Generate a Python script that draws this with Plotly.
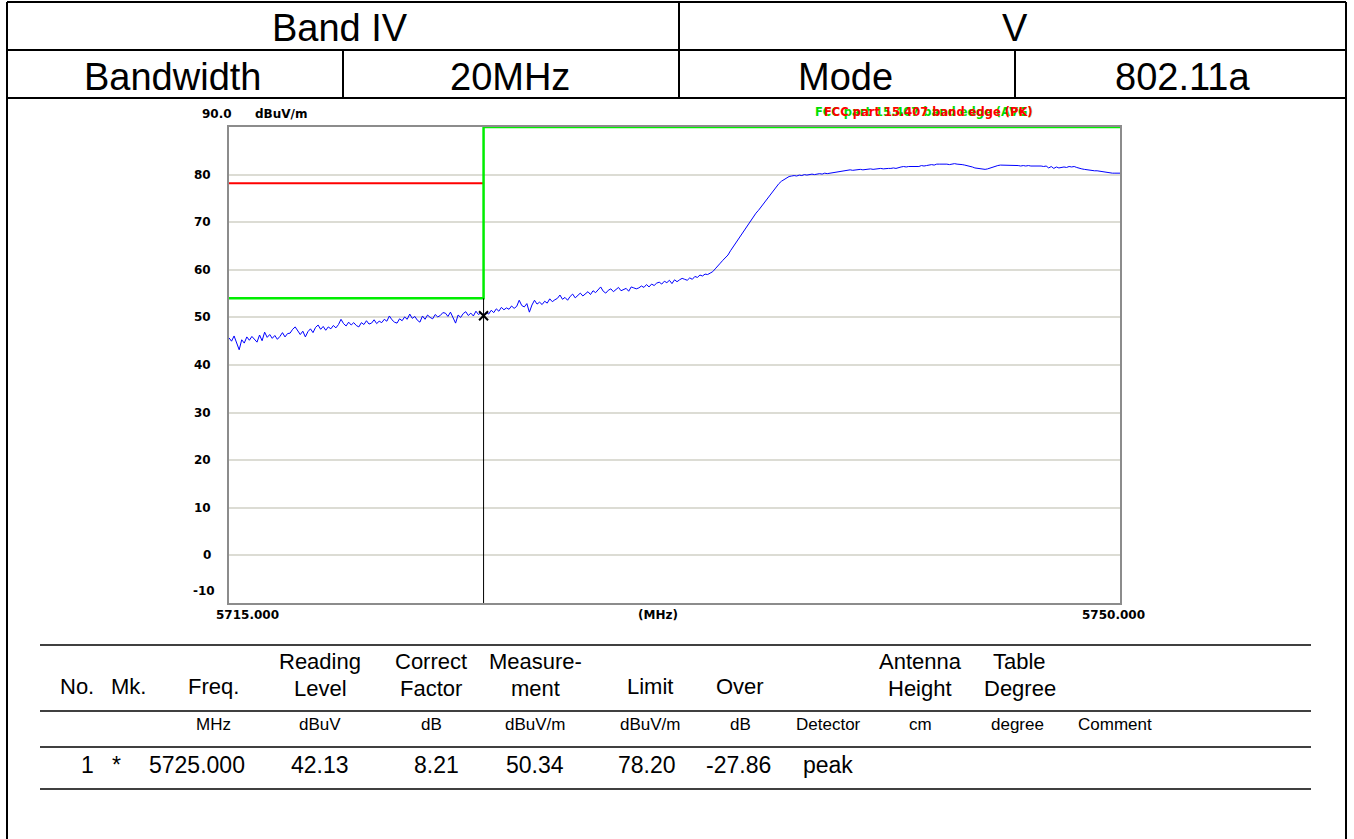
import plotly.graph_objects as go

W, H = 1354, 839

# ---------------- data ----------------
f_start = 5715.0
f_step = 0.1
level = [
    45.7, 45.0, 46.1, 44.5, 43.2, 45.3, 44.6, 45.9, 45.2, 46.0,
    45.5, 44.8, 46.3, 45.1, 46.9, 45.8, 46.4, 45.6, 46.2, 45.4,
    46.0, 46.8, 45.9, 46.6, 46.7, 47.5, 48.0, 47.2, 46.4, 47.1,
    45.9, 47.0, 47.6, 46.8, 47.9, 48.4, 47.5, 48.1, 47.3, 48.0,
    47.6, 48.3, 47.8, 48.5, 49.6, 48.7, 48.2, 49.0, 48.4, 48.9,
    48.3, 48.0, 48.9, 48.5, 49.3, 48.6, 48.8, 49.5, 48.7, 49.2,
    48.9, 49.6, 49.2, 50.3, 49.5, 49.0, 48.8, 49.7, 49.3, 50.1,
    49.6, 50.7, 49.8, 50.2, 49.4, 49.0, 50.3, 49.6, 50.5, 50.0,
    49.7, 50.6, 50.1, 50.4, 51.0, 50.9, 50.2, 51.1, 49.9, 48.8,
    50.5, 50.0, 50.8, 51.2, 50.4, 50.9, 50.3, 51.3, 50.6, 51.0,
    50.3, 51.1, 50.7, 51.5, 51.0, 51.8, 51.3, 52.1, 51.6, 52.0,
    51.7, 52.4, 51.9, 52.3, 53.6, 52.5, 52.2, 52.9, 51.1, 52.6,
    53.6, 52.8, 53.2, 52.7, 53.4, 53.0, 53.9, 53.3, 53.7, 54.0,
    54.7, 53.8, 54.2, 53.6, 54.4, 54.9, 54.1, 54.6, 55.1, 54.5,
    54.9, 55.4, 54.8, 55.6, 55.2, 55.9, 56.4, 55.5, 55.1, 55.7,
    56.0, 55.4, 55.8, 56.3, 55.6, 55.9, 56.1, 55.5, 56.4, 56.2,
    56.0, 56.2, 56.6, 56.3, 56.9, 56.4, 57.0, 56.7, 57.2, 57.4,
    57.0, 57.6, 57.3, 57.8, 57.1, 57.9, 57.5, 57.9, 58.2, 58.0,
    57.8, 58.3, 58.0, 58.6, 58.4, 58.9, 58.7, 59.1, 59.0, 59.3,
    59.6, 60.2, 60.9, 61.4, 62.0, 62.6, 63.1, 64.0, 64.8, 65.5,
    66.3, 67.2, 68.0, 68.8, 69.4, 70.2, 71.0, 71.9, 72.5, 73.2,
    74.0, 74.6, 75.3, 76.2, 76.9, 77.5, 78.1, 78.6, 79.0, 79.3,
    79.6, 79.7, 79.8, 79.7, 79.9, 79.8, 80.0, 79.9, 80.0, 80.1,
    80.0, 80.1, 80.2, 80.1, 80.3, 80.2, 80.3, 80.3, 80.4, 80.5,
    80.6, 80.7, 80.8, 80.9, 81.0, 80.9, 81.0, 81.0, 81.1, 81.0,
    81.1, 81.1, 81.2, 81.1, 81.2, 81.2, 81.3, 81.2, 81.3, 81.3,
    81.3, 81.4, 81.3, 81.5, 81.6, 81.7, 81.6, 81.7, 81.7, 81.8,
    81.8, 81.7, 81.9, 81.8, 81.9, 82.0, 82.1, 82.0, 82.2, 82.2,
    82.2, 82.3, 82.2, 82.1, 82.2, 82.3, 82.2, 82.2, 82.1, 82.0,
    81.9, 81.8, 81.6, 81.4, 81.3, 81.2, 81.1, 81.1, 81.2, 81.4,
    81.6, 81.8, 81.9, 82.0, 82.0, 81.9, 82.0, 81.9, 81.9, 81.9,
    81.9, 81.8, 81.9, 81.8, 81.9, 81.8, 81.8, 81.9, 81.8, 81.8,
    81.7, 81.8, 81.4, 81.7, 81.3, 81.6, 81.4, 81.5, 81.6, 81.5,
    81.7, 81.6, 81.7, 81.5, 81.3, 81.2, 81.1, 81.0, 81.0, 80.9,
    80.8, 80.8, 80.7, 80.6, 80.5, 80.4, 80.4, 80.3, 80.3, 80.3,
    80.3,
]
freq = [round(f_start + i * f_step, 1) for i in range(len(level))]

pk_limit_x = [5715, 5725]
pk_limit_y = [78.2, 78.2]
av_limit_x = [5715, 5725, 5725, 5750]
av_limit_y = [54, 54, 90, 90]

marker_freq = 5725.0
marker_level = 50.34
marker_line_y = [-10, 54]

y_ticks = [0, 10, 20, 30, 40, 50, 60, 70, 80]
x_range = [5715, 5750]
y_range = [-10, 90]

header_row1 = ["Band IV", "V"]
header_row2 = ["Bandwidth", "20MHz", "Mode", "802.11a"]

col_head1 = ["", "", "", "Reading", "Correct", "Measure-", "", "", "", "Antenna", "Table", ""]
col_head2 = ["No.", "Mk.", "Freq.", "Level", "Factor", "ment", "Limit", "Over", "", "Height", "Degree", ""]
col_units = ["", "", "MHz", "dBuV", "dB", "dBuV/m", "dBuV/m", "dB", "Detector", "cm", "degree", "Comment"]
row1_vals = ["1", "*", "5725.000", "42.13", "8.21", "50.34", "78.20", "-27.86", "peak", "", "", ""]

# ---------------- helpers ----------------
def px(x):
    return x / W

def py(y):
    return 1 - y / H

FONT = "Arial, Liberation Sans, sans-serif"
TICKFONT = dict(family="DejaVu Sans, sans-serif", size=12, color="#000")

fig = go.Figure()

fig.add_trace(go.Scatter(x=freq, y=level, mode="lines",
                         line=dict(color="#0000ff", width=1), hoverinfo="skip"))
fig.add_trace(go.Scatter(x=pk_limit_x, y=pk_limit_y, mode="lines",
                         line=dict(color="#ff0000", width=2), hoverinfo="skip"))
fig.add_trace(go.Scatter(x=av_limit_x, y=av_limit_y, mode="lines",
                         line=dict(color="#00ee00", width=2.5), hoverinfo="skip", cliponaxis=False))
fig.add_trace(go.Scatter(x=[marker_freq, marker_freq], y=marker_line_y, mode="lines",
                         line=dict(color="#000000", width=1), hoverinfo="skip"))
fig.add_trace(go.Scatter(x=[marker_freq], y=[marker_level], mode="markers",
                         marker=dict(symbol="x-thin", size=9, color="#000000",
                                     line=dict(color="#000000", width=2)),
                         hoverinfo="skip"))

ann = []
shapes = []

# y tick labels
for v in y_ticks:
    ann.append(dict(xref="paper", yref="y", x=px(213), y=v, text=f"<b>{v}</b>",
                    showarrow=False, xanchor="right", yanchor="middle", font=TICKFONT))
ann.append(dict(xref="paper", yref="y", x=px(217), y=-10, yshift=12, text="<b>-10</b>",
                showarrow=False, xanchor="right", yanchor="middle", font=TICKFONT))
ann.append(dict(xref="paper", yref="y", x=px(234), y=90, yshift=13, text="<b>90.0</b>",
                showarrow=False, xanchor="right", yanchor="middle", font=TICKFONT))
ann.append(dict(xref="paper", yref="y", x=px(253), y=90, yshift=13, text="<b>dBuV/m</b>",
                showarrow=False, xanchor="left", yanchor="middle", font=TICKFONT))
# x labels
for txt, xc in [("5715.000", 248), ("(MHz)", 658), ("5750.000", 1113)]:
    ann.append(dict(xref="paper", yref="paper", x=px(xc), y=py(615), text=f"<b>{txt}</b>",
                    showarrow=False, xanchor="center", yanchor="middle", font=TICKFONT))
# limit titles (overlapping in the original)
ann.append(dict(xref="paper", yref="paper", x=px(813), y=py(112),
                text="<b>FCC part 15.407 band edge (AVG)</b>", showarrow=False,
                xanchor="left", yanchor="middle",
                font=dict(family="DejaVu Sans, sans-serif", size=11.5, color="#00dd00")))
ann.append(dict(xref="paper", yref="paper", x=px(822), y=py(112),
                text="<b>FCC part 15.407 band edge (PK)</b>", showarrow=False,
                xanchor="left", yanchor="middle",
                font=dict(family="DejaVu Sans, sans-serif", size=11.5, color="#ff0000")))

# header table
def hline(x0, x1, y, w=2, color="#000"):
    shapes.append(dict(type="line", xref="paper", yref="paper", x0=px(x0), x1=px(x1),
                       y0=py(y), y1=py(y), line=dict(color=color, width=w)))

def vline(x, y0, y1, w=2, color="#000"):
    shapes.append(dict(type="line", xref="paper", yref="paper", x0=px(x), x1=px(x),
                       y0=py(y0), y1=py(y1), line=dict(color=color, width=w)))

hline(7, 1346, 2)
hline(7, 1346, 50)
hline(7, 1346, 98)
vline(7, 2, 839)
vline(1346, 2, 839)
vline(679, 2, 98)
vline(343, 50, 98)
vline(1015, 50, 98)

for txt, xc in zip(header_row1, [340, 1015]):
    ann.append(dict(xref="paper", yref="paper", x=px(xc), y=py(28), text=txt, showarrow=False,
                    xanchor="center", yanchor="middle", font=dict(family=FONT, size=38, color="#000")))
for txt, xc in zip(header_row2, [172, 510, 845, 1182]):
    ann.append(dict(xref="paper", yref="paper", x=px(xc), y=py(77), text=txt, showarrow=False,
                    xanchor="center", yanchor="middle", font=dict(family=FONT, size=38, color="#000")))

# bottom table
hline(40, 1311, 645, 1.5)
hline(40, 1311, 711, 1.5)
hline(40, 1311, 747, 1.5)
hline(40, 1311, 789, 1.5)

head_x = [77, 128, 213, 320, 431, 535, 650, 740, 828, 920, 1020, 1115]
unit_x = [77, 128, 213, 320, 431, 535, 650, 740, 828, 920, 1017, 1115]
val_x = [87, 117, 197, 320, 436, 535, 647, 738, 828, 920, 1017, 1115]
for t1, t2, xc in zip(col_head1, col_head2, head_x):
    if t1 and t2:
        ann.append(dict(xref="paper", yref="paper", x=px(xc), y=py(661), text=t1, showarrow=False,
                        xanchor="center", yanchor="middle", font=dict(family=FONT, size=22, color="#000")))
        ann.append(dict(xref="paper", yref="paper", x=px(xc), y=py(688), text=t2, showarrow=False,
                        xanchor="center", yanchor="middle", font=dict(family=FONT, size=22, color="#000")))
    elif t2:
        ann.append(dict(xref="paper", yref="paper", x=px(xc), y=py(686), text=t2, showarrow=False,
                        xanchor="center", yanchor="middle", font=dict(family=FONT, size=22, color="#000")))
for t, xc in zip(col_units, unit_x):
    if t:
        ann.append(dict(xref="paper", yref="paper", x=px(xc), y=py(724), text=t, showarrow=False,
                        xanchor="center", yanchor="middle", font=dict(family=FONT, size=17, color="#000")))
for t, xc in zip(row1_vals, val_x):
    if t:
        ann.append(dict(xref="paper", yref="paper", x=px(xc), y=py(765), text=t, showarrow=False,
                        xanchor="center", yanchor="middle", font=dict(family=FONT, size=23, color="#000")))

fig.update_layout(
    width=W, height=H, margin=dict(l=0, r=0, t=0, b=0),
    paper_bgcolor="white", plot_bgcolor="white", showlegend=False,
    font=dict(family=FONT, color="#000"),
    annotations=ann, shapes=shapes,
    xaxis=dict(domain=[px(229), px(1120)], range=x_range, showgrid=False, zeroline=False,
               showticklabels=False, ticks="", showline=True, mirror=True,
               linecolor="#8c8c8c", linewidth=2, fixedrange=True),
    yaxis=dict(domain=[py(603), py(127)], range=y_range, tickvals=y_ticks, showgrid=True,
               gridcolor="#dcdcd4", gridwidth=1.5, zeroline=False, showticklabels=False,
               ticks="", showline=True, mirror=True, linecolor="#8c8c8c", linewidth=2,
               fixedrange=True),
)

fig.write_html("out.html")
